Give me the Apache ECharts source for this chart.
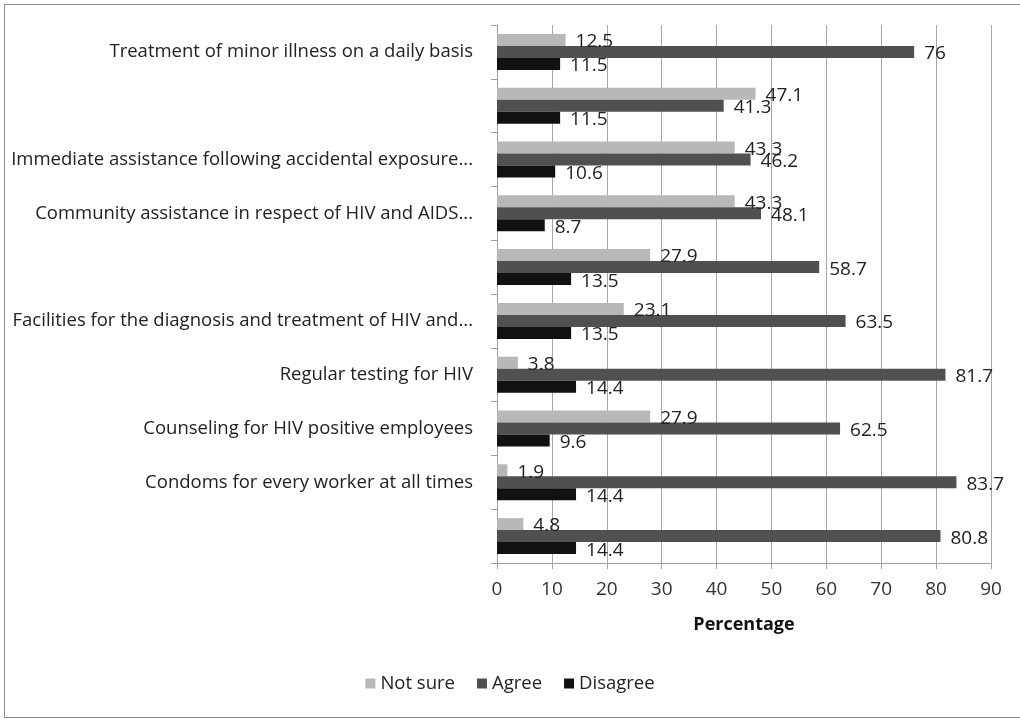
<!DOCTYPE html>
<html>
<head>
<meta charset="utf-8">
<script src="https://cdn.jsdelivr.net/npm/echarts@6/dist/echarts.min.js"></script>
<style>
html,body{margin:0;padding:0;background:#fff;overflow:hidden;width:1020px;height:719px;}
#frame{position:absolute;left:4px;top:4px;width:1030px;height:714px;border:1px solid #8c8c8c;box-sizing:border-box;}
#chart{position:absolute;left:0;top:0;width:1020px;height:719px;}
</style>
</head>
<body>
<div id="frame"></div>
<div id="chart"></div>
<script>
const categories = [
  "Treatment of minor illness on a daily basis",
  " ",
  "Immediate assistance following accidental exposure...",
  "Community assistance in respect of HIV and AIDS...",
  "  ",
  "Facilities for the diagnosis and treatment of HIV and...",
  "Regular testing for HIV",
  "Counseling for HIV positive employees",
  "Condoms for every worker at all times",
  "   "
];
const notSure  = [12.5, 47.1, 43.3, 43.3, 27.9, 23.1, 3.8, 27.9, 1.9, 4.8];
const agree    = [76, 41.3, 46.2, 48.1, 58.7, 63.5, 81.7, 62.5, 83.7, 80.8];
const disagree = [11.5, 11.5, 10.6, 8.7, 13.5, 13.5, 14.4, 9.6, 14.4, 14.4];
const xTicks = {min: 0, max: 90, interval: 10};

const FONT = 'Open Sans';
const chart = echarts.init(document.getElementById('chart'), null, {renderer: 'canvas'});
function mk(name, data, color) {
  return {
    name: name, type: 'bar', data: data,
    barGap: '0%', barCategoryGap: '33%',
    itemStyle: {color: color},
    label: {show: true, position: 'right', distance: 10, color: '#222', fontFamily: FONT, fontSize: 19, offset: [0, 2]}
  };
}
chart.setOption({
  animation: false,
  textStyle: {fontFamily: FONT},
  grid: {left: 497, right: 29, top: 25, bottom: 156, containLabel: false},
  legend: {
    bottom: 21, left: 'center', icon: 'rect', itemWidth: 10, itemHeight: 10, itemGap: 22,
    textStyle: {fontFamily: FONT, fontSize: 18.5, color: '#222'},
    data: ['Not sure', 'Agree', 'Disagree']
  },
  xAxis: {
    type: 'value', min: xTicks.min, max: xTicks.max, interval: xTicks.interval,
    name: 'Percentage', nameLocation: 'middle', nameGap: 53,
    nameTextStyle: {fontFamily: FONT, fontSize: 18, fontWeight: 'bold', color: '#111'},
    axisLine: {show: true, lineStyle: {color: '#a0a0a0'}},
    axisTick: {show: true, length: 6, lineStyle: {color: '#a0a0a0'}},
    axisLabel: {fontFamily: FONT, fontSize: 19, color: '#333', margin: 17},
    splitLine: {show: true, lineStyle: {color: '#a6a6a6', width: 1}}
  },
  yAxis: {
    type: 'category', data: categories, inverse: true,
    axisLine: {show: true, lineStyle: {color: '#a0a0a0'}},
    axisTick: {show: true, length: 6, lineStyle: {color: '#a0a0a0'}},
    axisLabel: {fontFamily: FONT, fontSize: 18.5, color: '#222', margin: 24},
    splitLine: {show: false}
  },
  series: [
    mk('Not sure', notSure, '#b8b8b8'),
    mk('Agree', agree, '#505050'),
    mk('Disagree', disagree, '#111111')
  ]
});
</script>
</body>
</html>
